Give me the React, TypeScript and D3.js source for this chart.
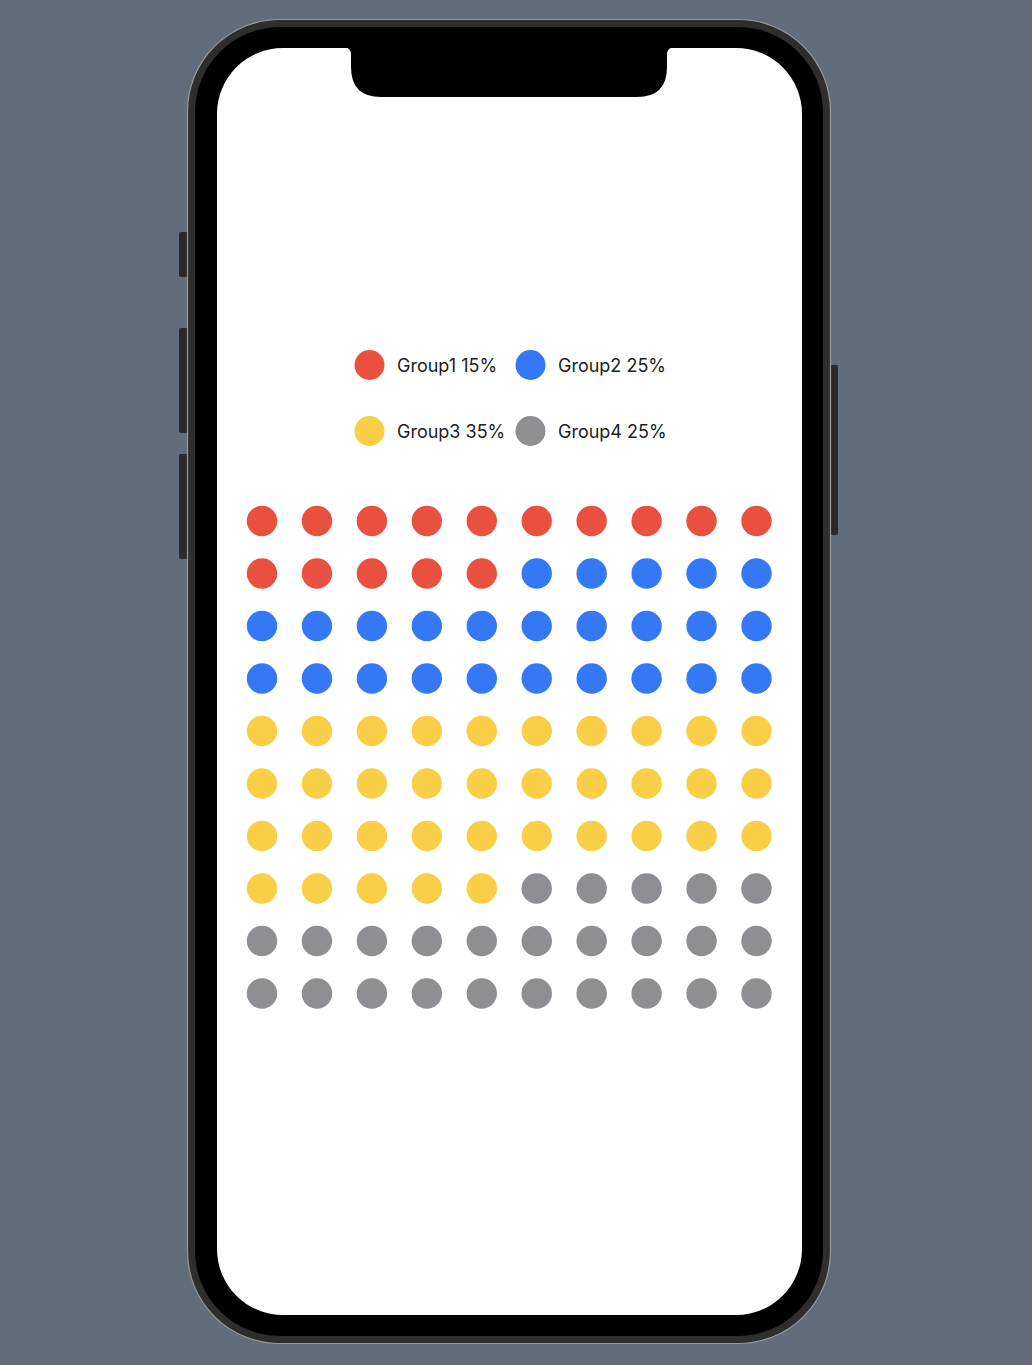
import React from 'react';
import * as d3 from 'd3';

const groups = ['Group1', 'Group2', 'Group3', 'Group4'];
const percents = [15, 25, 35, 25];
const colors = ['#ea5040', '#3478f6', '#f8cf47', '#8e8e93'];
const cols = d3.range(10);
const rows = d3.range(10);

const W = 1032;
const H = 1365;

const App = () => {
  // one cell per percent point, filled row by row
  const cells: { i: number; group: number }[] = [];
  percents.forEach((p, g) => {
    for (let k = 0; k < p; k++) cells.push({ i: cells.length, group: g });
  });

  const x = d3.scalePoint<number>().domain(cols).range([262, 756.5]);
  const y = d3.scalePoint<number>().domain(rows).range([521, 993.5]);

  // legend in a 2x2 layout
  const legendX = d3.scaleOrdinal<number, number>().domain([0, 1]).range([369.5, 530.5]);
  const legendY = d3.scaleOrdinal<number, number>().domain([0, 1]).range([365, 431]);

  const screen = { x: 217, y: 48, w: 585, h: 1267, r: 66 };
  const notchPath = (() => {
    const l = 351, r = 667, top = screen.y - 1, bot = 97, rr = 30;
    return `M${l - 8},${top} Q${l},${top} ${l},${top + 8} L${l},${bot - rr} Q${l},${bot} ${l + rr},${bot} L${r - rr},${bot} Q${r},${bot} ${r},${bot - rr} L${r},${top + 8} Q${r},${top} ${r + 8},${top} Z`;
  })();

  return (
    <div style={{ position: 'fixed', left: 0, top: 0, width: W, height: H }}>
      <svg width={W} height={H} style={{ display: 'block' }}>
        <rect width={W} height={H} fill="#636d7a" />
        {/* side buttons */}
        <rect x={179} y={232} width={9} height={45} rx={2} fill="#2a2a2c" />
        <rect x={179} y={328} width={9} height={105} rx={2} fill="#2a2a2c" />
        <rect x={179} y={454} width={9} height={105} rx={2} fill="#2a2a2c" />
        <rect x={830} y={365} width={8} height={170} rx={2} fill="#2a2a2c" />
        {/* phone body */}
        <rect x={187.5} y={19.5} width={643} height={1324} rx={92} fill="#2e2e2e" stroke="#9a9a9a" strokeWidth={1.2} />
        <rect x={195} y={27} width={628} height={1309} rx={85} fill="#000" />
        {/* screen */}
        <rect x={screen.x} y={screen.y} width={screen.w} height={screen.h} rx={screen.r} fill="#fff" />
        <path d={notchPath} fill="#000" />

        {/* legend */}
        {groups.map((g, i) => {
          const cx = legendX(i % 2);
          const cy = legendY(Math.floor(i / 2));
          return (
            <g key={g}>
              <circle cx={cx} cy={cy} r={15} fill={colors[i]} />
              <text
                x={cx + 27.5}
                y={cy + 1}
                dy="0.35em"
                fontFamily="Inter, 'Noto Sans', sans-serif"
                fontSize={18}
                fill="#1c1c1e"
              >
                {`${g} ${percents[i]}%`}
              </text>
            </g>
          );
        })}

        {/* waffle grid */}
        {cells.map(c => (
          <circle
            key={c.i}
            cx={x(c.i % 10)}
            cy={y(Math.floor(c.i / 10))}
            r={15.2}
            fill={colors[c.group]}
          />
        ))}
      </svg>
    </div>
  );
};

export default App;
